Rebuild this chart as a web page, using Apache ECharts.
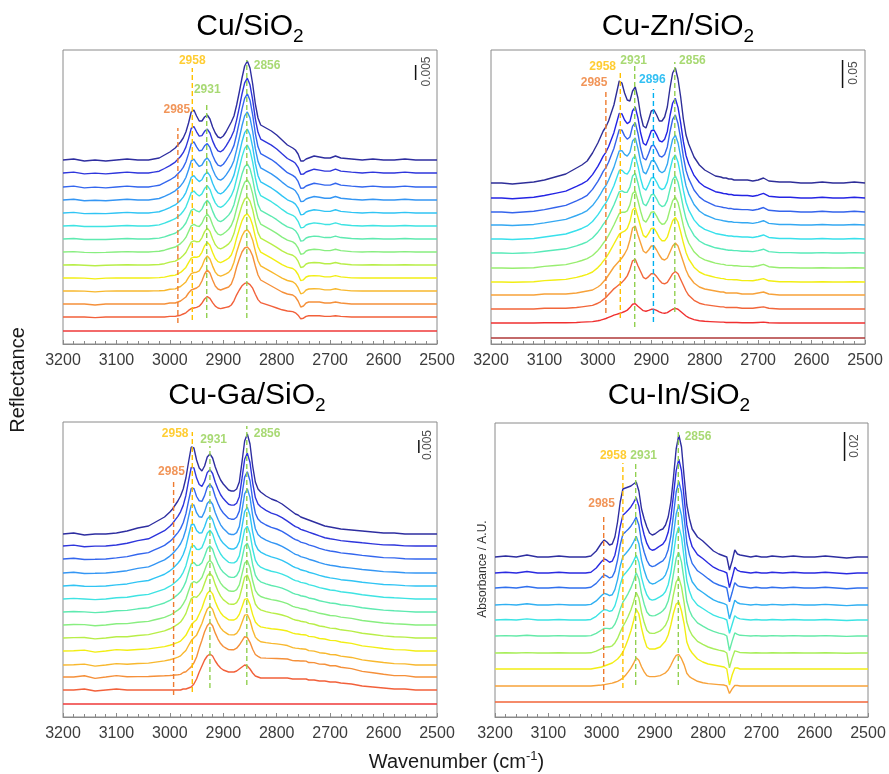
<!DOCTYPE html>
<html><head><meta charset="utf-8">
<script src="https://cdn.jsdelivr.net/npm/echarts@6/dist/echarts.min.js"></script>
<style>html,body{margin:0;padding:0;background:#fff}#c{width:889px;height:774px}</style>
</head><body><div id="c"></div>
<script>
// ---------- shared wavenumber grid (cm-1) ----------
const wavenumbers = [3200,3180,3160,3140,3120,3100,3080,3060,3040,
 3030,3020,3010,3000,
 2995,2990,2985,2980,2975,2970,2965,2960,2955,2950,
 2945,2940,2935,2930,2925,2920,2915,2910,2905,2900,
 2895,2890,2885,2880,2875,2870,2865,2860,2855,2850,
 2845,2840,2835,2830,
 2820,2810,2800,2790,2780,2770,
 2765,2760,2755,2750,2745,2740,
 2730,2720,2710,2700,2690,2680,
 2660,2640,2620,2600,2580,2560,2540,2520,2500];
const xTicks = [3200,3100,3000,2900,2800,2700,2600,2500];

// ---------- Cu/SiO2 ----------
const cuHighShape = [0,1,-1,0,-1,0,1,0,0, 1,2,5,8,
 10,12,15,18,22,28,37,48,50,44, 39,39,43,45,41,33,27,23,22,24,
 28,33,38,44,55,68,82,94,99,92, 76,56,42,35, 32,29,25,20,15,12,
 10,6,-1,-1,1,2, 4,3,2,2,4,2, 1,0,1,0,0,1,0,0,0];
const cuLowShape = [0,0,0,-1,0,0,0,0,0, 0,0,0,1,
 1,1,2,3,5,7,11,14,15,16, 18,23,30,34,31,24,18,15,14,15,
 16,17,20,27,37,45,52,56,57,54, 48,38,29,24, 21,18,15,12,10,9,
 7,3,-3,-2,1,2, 2,2,1,1,2,1, 0,0,0,0,0,0,0,0,0];
const cuOffsets = [13,27,40,53,66,79,92,105,118,131,144,157,171,184];
const cuLowWeights = [0,0.6,1,0.9,0.83,0.74,0.64,0.57,0.43,0.36,0.26,0.14,0.1,0];
const cuHighWeights = [0,0,0,0.1,0.17,0.26,0.36,0.43,0.57,0.64,0.74,0.86,0.9,1];
const cuColors = ['#F03A3A','#F2603A','#F5903A','#F8B82E','#F2EE14','#B8EE48','#88EE80','#5EEAB0','#3EE3E3','#30C4F4','#3496F4','#3366EE','#2E36DC','#2E2EA0'];
const cuPeakNames = ['2985','2958','2931','2856'];
const cuPeakLineX = [2985,2958,2931,2856];
const cuPeakLineY = [[21,216],[24,276],[26,242],[26,284]];
const cuPeakLabelXY = [[2987,234],[2958,283.5],[2930,254.5],[2818,278.5]];
const cuScaleText = '0.005';

// ---------- Cu-Zn/SiO2 ----------
const znHighShape = [0,0,-1,0,1,3,6,9,15, 18,22,30,40,
 46,52,56,62,70,78,90,102,100,90, 83,82,92,96,85,68,57,55,63,72,
 73,68,62,62,66,76,95,110,115,104, 86,64,48,39, 26,18,13,10,7,6,
 5,5,4,4,3,3, 3,3,2,3,5,2, 1,1,0,0,1,0,0,1,0];
const znLowShape = [0,0,0,0,0,1,1,1,2, 3,4,5,8,
 10,13,16,20,24,28,31,34,37,41, 46,55,67,69,60,52,44,42,45,49,
 49,45,40,36,35,37,43,49,52,49, 41,33,25,19, 12,8,6,5,4,3,
 3,2,2,2,2,2, 1,1,1,2,3,1, 0,0,0,0,0,0,0,0,0];
const znOffsets = [6,21,35,49,62,76,91,105,119,132,146,161];
const znLowWeights = [0,0.28,0.72,1,0.8,0.7,0.6,0.51,0.47,0.32,0.3,0];
const znHighWeights = [0,0,0,0,0.2,0.3,0.4,0.5,0.57,0.7,0.73,1];
const znColors = ['#B03A3A','#F03030','#F2663A','#F7A23A','#F2EE14','#98EE70','#58EAB8','#38E0EC','#34A8F2','#3464EC','#2424E4','#2E2E98'];
const znPeakNames = ['2985','2958','2931','2896','2856'];
const znPeakLineX = [2985,2958,2931,2896,2856];
const znPeakLineY = [[31,254],[26,271],[17,279],[22,255],[32,282]];
const znPeakLabelXY = [[3007,261],[2991,277],[2933,283.5],[2898,264],[2823,283.5]];
const znScaleText = '0.05';

// ---------- Cu-Ga/SiO2 ----------
const gaHighShape = [0,1,-1,0,0,1,3,6,8, 11,14,17,22,
 25,29,33,38,45,56,72,87,86,74, 66,63,68,77,80,76,67,60,54,50,
 47,44,43,43,45,52,72,93,100,90, 68,52,45,42, 38,35,33,30,26,22,
 20,19,17,16,15,14, 12,10,8,7,6,5, 4,3,2,1,1,0,0,0,0];
const gaLowShape = [0,0,1,-1,0,1,0,0,0, 0,0,0,0,
 0,0,0,0,1,1,2,3,6,11, 18,24,30,34,36,34,29,25,22,20,
 19,18,18,18,19,21,23,25,24,21, 17,14,13,12, 12,12,12,12,12,11,
 11,11,11,11,11,10, 10,9,9,8,8,7, 6,4,3,2,1,1,0,0,0];
const gaOffsets = [13,27,40,52,66,79,92,105,118,131,144,158,171,183];
const gaLowWeights = [0,1,1.35,1.1,1.1,0.87,0.8,0.66,0.62,0.41,0.3,0.3,0.12,0];
const gaHighWeights = [0,0,0.07,0.24,0.26,0.42,0.45,0.53,0.58,0.69,0.77,0.8,0.9,1];
const gaColors = cuColors.slice();
const gaPeakNames = ['2985','2958','2931','2856'];
const gaPeakLineX = [2993,2958,2925,2856];
const gaPeakLineY = [[22,236],[25,285],[29,271],[32,291]];
const gaPeakLabelXY = [[2997,245],[2990,283],[2918,277.5],[2818,283]];
const gaScaleText = '0.005';

// ---------- Cu-In/SiO2 ----------
const inHighShape = [0,1,0,2,0,0,1,0,0, 0,1,6,14,
 17,15,12,13,20,35,55,68,69,70, 71,73,75,66,48,38,30,24,22,23,
 25,27,28,32,40,55,80,108,122,110, 80,52,38,28, 20,16,11,6,3,1,
 0,-13,-4,7,3,2, 1,0,1,0,0,1, 0,1,0,0,1,0,-1,0,0];
const inLowShape = [0,0,0,0,0,0,0,0,0, 0,0,1,2,
 3,4,5,6,8,10,13,17,23,30, 38,48,60,55,41,30,22,20,20,20,
 21,22,25,28,34,44,56,65,67,58, 45,27,20,16, 10,7,5,4,3,2,
 0,-16,-6,1,1,0, 0,0,0,0,0,0, 0,0,0,0,0,0,0,0,0];
const inOffsets = [15,31,48,64,81,97,112,129,144,160];
const inLowWeights = [0,0.47,1,0.76,0.63,0.39,0.37,0.28,0.28,0];
const inHighWeights = [0,0,0,0.2,0.34,0.55,0.62,0.72,0.78,1];
const inColors = ['#F2663A','#F7A23A','#F2EE14','#A8EE5A','#64EAA8','#3CE4E4','#30B0F2','#3070EE','#2A2AE0','#2E2EA0'];
const inPeakNames = ['2985','2958','2931','2856'];
const inPeakLineX = [2996,2960,2936,2856];
const inPeakLineY = [[27,203],[29,254],[32,254],[32,288]];
const inPeakLabelXY = [[3000,213],[2978,261],[2921,261],[2819,280]];
const inScaleText = '0.02';

// ---------- layout / style ----------
const FONT = '"Liberation Sans", Arial, Helvetica, sans-serif';
const peakColors = {'2985':'#EE7B30','2958':'#FFC000','2931':'#92D050','2856':'#92D050','2896':'#00B0F0'};
const panels = [
 {grid:{left:63,top:50,width:374,height:294}, ymax:294, low:cuLowShape, high:cuHighShape, off:cuOffsets, lw:cuLowWeights, hw:cuHighWeights, colors:cuColors,
  pn:cuPeakNames, px:cuPeakLineX, py:cuPeakLineY, pl:cuPeakLabelXY, st:cuScaleText, bar:[2540,264,279], barLabel:[2519,272.5],
  title:['Cu/SiO','2'], tcx:250, tBase:37},
 {grid:{left:491,top:50,width:374,height:294}, ymax:294, low:znLowShape, high:znHighShape, off:znOffsets, lw:znLowWeights, hw:znHighWeights, colors:znColors,
  pn:znPeakNames, px:znPeakLineX, py:znPeakLineY, pl:znPeakLabelXY, st:znScaleText, bar:[2542,256,284], barLabel:[2521,271],
  title:['Cu-Zn/SiO','2'], tcx:678, tBase:37},
 {grid:{left:63,top:422,width:374,height:295}, ymax:295, low:gaLowShape, high:gaHighShape, off:gaOffsets, lw:gaLowWeights, hw:gaHighWeights, colors:gaColors,
  pn:gaPeakNames, px:gaPeakLineX, py:gaPeakLineY, pl:gaPeakLabelXY, st:gaScaleText, bar:[2534,264,277], barLabel:[2517,272],
  title:['Cu-Ga/SiO','2'], tcx:247, tBase:405.7},
 {grid:{left:495,top:423,width:373,height:294}, ymax:294, low:inLowShape, high:inHighShape, off:inOffsets, lw:inLowWeights, hw:inHighWeights, colors:inColors,
  pn:inPeakNames, px:inPeakLineX, py:inPeakLineY, pl:inPeakLabelXY, st:inScaleText, bar:[2544,256,285], barLabel:[2525,271],
  title:['Cu-In/SiO','2'], tcx:679, tBase:405.7}
];

const grids=[], xAxes=[], yAxes=[], series=[];
const frame = '#8a8a8a';
panels.forEach((p,i)=>{
  grids.push(Object.assign({show:true, borderColor:frame, borderWidth:1, containLabel:false}, p.grid));
  xAxes.push({gridIndex:i, type:'value', min:2500, max:3200, interval:100, inverse:true,
    axisLine:{show:true, onZero:false, lineStyle:{color:frame, width:1}},
    axisTick:{show:true, inside:true, length:4, lineStyle:{color:frame}},
    minorTick:{show:true, splitNumber:5, length:3, lineStyle:{color:frame}},
    splitLine:{show:false}, minorSplitLine:{show:false},
    axisLabel:{color:'#3c3c3c', fontSize:16, fontFamily:FONT, margin:9, showMinLabel:true, showMaxLabel:true,
      formatter:(v)=> xTicks.indexOf(v)>=0 ? String(v) : ''}});
  yAxes.push({gridIndex:i, type:'value', min:0, max:p.ymax, show:false});
  p.off.forEach((o,k)=>{
    const data = wavenumbers.map((w,j)=>[w, o + p.lw[k]*p.low[j] + p.hw[k]*p.high[j]]);
    series.push({type:'line', xAxisIndex:i, yAxisIndex:i, data, symbol:'none', silent:true, animation:false,
      lineStyle:{color:p.colors[k], width:1.4}, z:2});
  });
  p.pn.forEach((n,m)=>{
    series.push({type:'line', xAxisIndex:i, yAxisIndex:i, symbol:'none', silent:true, animation:false, z:3,
      data:[[p.px[m], p.py[m][0]],[p.px[m], p.py[m][1]]],
      lineStyle:{color:peakColors[n], width:1.4, type:[5,3]}});
  });
  series.push({type:'scatter', xAxisIndex:i, yAxisIndex:i, symbolSize:0, silent:true, animation:false, z:4,
    data:p.pn.map((n,m)=>({name:n, value:p.pl[m], label:{color:peakColors[n]}})),
    label:{show:true, position:'inside', formatter:'{b}', fontFamily:FONT, fontWeight:'bold', fontSize:12}});
  series.push({type:'line', xAxisIndex:i, yAxisIndex:i, symbol:'none', silent:true, animation:false, z:4,
    data:[[p.bar[0],p.bar[1]],[p.bar[0],p.bar[2]]], lineStyle:{color:'#111', width:1.5}});
  series.push({type:'scatter', xAxisIndex:i, yAxisIndex:i, symbolSize:0, silent:true, animation:false, z:4,
    data:[{name:p.st, value:p.barLabel}],
    label:{show:true, position:'inside', formatter:'{b}', fontFamily:FONT, fontSize:12, color:'#222', rotate:90}});
});

// ---------- text (titles / axis names) ----------
const ctx = document.createElement('canvas').getContext('2d');
function tw(t,size){ ctx.font = size+'px '+FONT; return ctx.measureText(t).width; }
const MID = 0.347;
const graphic = [];
panels.forEach(p=>{
  const wm = tw(p.title[0],30), ws = tw(p.title[1],19);
  const x0 = p.tcx - (wm+ws)/2;
  graphic.push({type:'text', x:x0, y:p.tBase - MID*30, style:{text:p.title[0], font:'30px '+FONT, fill:'#000', align:'left', verticalAlign:'middle'}});
  graphic.push({type:'text', x:x0+wm, y:p.tBase + 6.5 - MID*19, style:{text:p.title[1], font:'19px '+FONT, fill:'#000', align:'left', verticalAlign:'middle'}});
});
(function(){
  const a='Wavenumber (cm', b='-1', c=')';
  const wa=tw(a,20), wb=tw(b,13), wc=tw(c,20);
  const x0 = 456.5 - (wa+wb+wc)/2, base=769;
  graphic.push({type:'text', x:x0, y:base-MID*20, style:{text:a, font:'20px '+FONT, fill:'#1a1a1a', align:'left', verticalAlign:'middle'}});
  graphic.push({type:'text', x:x0+wa, y:base-8-MID*13, style:{text:b, font:'13px '+FONT, fill:'#1a1a1a', align:'left', verticalAlign:'middle'}});
  graphic.push({type:'text', x:x0+wa+wb, y:base-MID*20, style:{text:c, font:'20px '+FONT, fill:'#1a1a1a', align:'left', verticalAlign:'middle'}});
})();
graphic.push({type:'text', x:18.5, y:380, rotation:Math.PI/2, style:{text:'Reflectance', font:'20px '+FONT, fill:'#1a1a1a', align:'center', verticalAlign:'middle'}});
graphic.push({type:'text', x:483, y:569, rotation:Math.PI/2, style:{text:'Absorbance / A.U.', font:'12px '+FONT, fill:'#333', align:'center', verticalAlign:'middle'}});

const chart = echarts.init(document.getElementById('c'), null, {renderer:'canvas'});
chart.setOption({animation:false, backgroundColor:'#fff', grid:grids, xAxis:xAxes, yAxis:yAxes, series, graphic});
</script></body></html>
